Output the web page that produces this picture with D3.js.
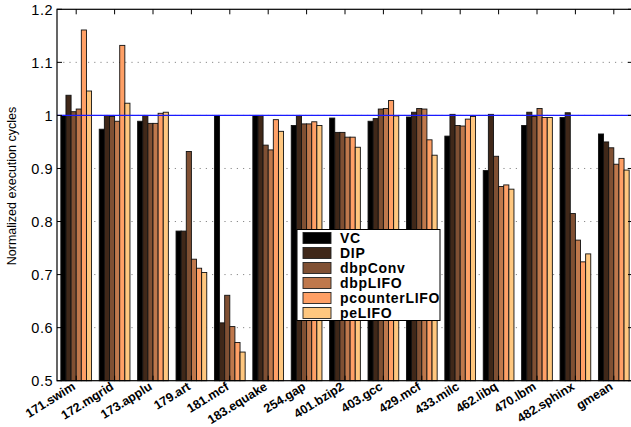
<!DOCTYPE html>
<html>
<head>
<meta charset="utf-8">
<script src="https://cdn.jsdelivr.net/npm/d3@7"></script>
<style>
  html, body { margin: 0; padding: 0; background: #fff; }
  svg { display: block; }
  text { font-family: "Liberation Sans", Arial, Helvetica, sans-serif; }
</style>
</head>
<body>
<svg id="chart" width="631" height="427"></svg>
<script>
// Benchmarks along the x axis
const categories = ["171.swim", "172.mgrid", "173.applu", "179.art", "181.mcf",
  "183.equake", "254.gap", "401.bzip2", "403.gcc", "429.mcf", "433.milc",
  "462.libq", "470.lbm", "482.sphinx", "gmean"];

// Replacement policies (legend order)
const seriesNames = ["VC", "DIP", "dbpConv", "dbpLIFO", "pcounterLIFO", "peLIFO"];

// Normalized execution cycles per policy, one value per benchmark
const vcValues      = [1.000, 0.974, 0.989, 0.782, 1.000, 1.000, 0.981, 0.995, 0.989, 0.997, 0.961, 0.896, 0.981, 0.996, 0.965];
const dipValues     = [1.038, 1.000, 1.000, 0.782, 0.609, 1.000, 1.000, 0.968, 0.994, 1.006, 1.002, 1.002, 1.006, 1.005, 0.950];
const dbpConvValues = [1.007, 0.998, 0.985, 0.932, 0.661, 0.944, 0.984, 0.968, 1.012, 1.013, 0.981, 0.923, 0.998, 0.815, 0.939];
const dbpLIFOValues = [1.012, 0.989, 0.985, 0.729, 0.602, 0.935, 0.984, 0.959, 1.013, 1.012, 0.980, 0.866, 1.013, 0.765, 0.908];
const pcounterValues= [1.161, 1.132, 1.004, 0.712, 0.572, 0.992, 0.988, 0.959, 1.028, 0.954, 0.993, 0.869, 0.996, 0.724, 0.919];
const peLIFOValues  = [1.046, 1.023, 1.006, 0.704, 0.554, 0.970, 0.981, 0.940, 0.999, 0.925, 0.998, 0.861, 0.996, 0.739, 0.897];

const seriesValues = [vcValues, dipValues, dbpConvValues, dbpLIFOValues, pcounterValues, peLIFOValues];

// Copper colormap, six steps
const seriesColors = ["#000000", "#402819", "#805033", "#bf784c", "#ffa066", "#ffc77f"];

const yTicks = [0.5, 0.6, 0.7, 0.8, 0.9, 1.0, 1.1, 1.2];
const yTickLabels = ["0.5", "0.6", "0.7", "0.8", "0.9", "1", "1.1", "1.2"];
const baseline = 1.0;

const svg = d3.select("#chart");
const plotLeft = 57, plotRight = 633, plotTop = 9.3, plotBottom = 380.7;

const x = d3.scaleBand().domain(categories).range([plotLeft, plotRight]).padding(0);
const x1 = d3.scaleBand().domain(seriesNames).range([0, x.bandwidth()]).paddingInner(0).paddingOuter(0.75);
const y = d3.scaleLinear().domain([0.5, 1.2]).range([plotBottom, plotTop]);

// Dotted grid lines
svg.append("g")
  .selectAll("line")
  .data(yTicks.filter(t => t > 0.5 && t < 1.2))
  .join("line")
  .attr("x1", plotLeft).attr("x2", plotRight)
  .attr("y1", d => y(d)).attr("y2", d => y(d))
  .attr("stroke", "#8a8a8a")
  .attr("stroke-width", 1)
  .attr("stroke-dasharray", "1.2,5");

// Bars
const groups = svg.append("g")
  .selectAll("g")
  .data(categories)
  .join("g")
  .attr("transform", d => `translate(${x(d)},0)`);

groups.selectAll("rect")
  .data((c, i) => seriesNames.map((s, j) => ({ s, v: seriesValues[j][i], color: seriesColors[j] })))
  .join("rect")
  .attr("x", d => x1(d.s))
  .attr("width", x1.bandwidth())
  .attr("y", d => y(d.v))
  .attr("height", d => plotBottom - y(d.v))
  .attr("fill", d => d.color)
  .attr("stroke", "#111")
  .attr("stroke-width", 0.9);

// Reference line at 1.0
svg.append("line")
  .attr("x1", plotLeft).attr("x2", plotRight)
  .attr("y1", y(baseline)).attr("y2", y(baseline))
  .attr("stroke", "#1a1aff")
  .attr("stroke-width", 1.3);

// Frame
svg.append("rect")
  .attr("x", plotLeft).attr("y", plotTop)
  .attr("width", plotRight - plotLeft).attr("height", plotBottom - plotTop)
  .attr("fill", "none").attr("stroke", "#000").attr("stroke-width", 1.2);

// Category ticks on top and bottom edges
const tickLen = 5;
svg.append("g").selectAll("line")
  .data(categories).join("line")
  .attr("x1", d => x(d) + x.bandwidth() / 2).attr("x2", d => x(d) + x.bandwidth() / 2)
  .attr("y1", plotTop).attr("y2", plotTop + tickLen)
  .attr("stroke", "#000");
svg.append("g").selectAll("line")
  .data(categories).join("line")
  .attr("x1", d => x(d) + x.bandwidth() / 2).attr("x2", d => x(d) + x.bandwidth() / 2)
  .attr("y1", plotBottom).attr("y2", plotBottom - tickLen)
  .attr("stroke", "#000");

// Value ticks on left and right edges
svg.append("g").selectAll("line")
  .data(yTicks).join("line")
  .attr("x1", plotLeft).attr("x2", plotLeft + tickLen)
  .attr("y1", d => y(d)).attr("y2", d => y(d))
  .attr("stroke", "#000");
svg.append("g").selectAll("line")
  .data(yTicks).join("line")
  .attr("x1", plotRight).attr("x2", plotRight - tickLen)
  .attr("y1", d => y(d)).attr("y2", d => y(d))
  .attr("stroke", "#000");

// Y tick labels
svg.append("g").selectAll("text")
  .data(yTicks).join("text")
  .attr("x", 53)
  .attr("y", d => y(d))
  .attr("dy", "0.36em")
  .attr("text-anchor", "end")
  .attr("font-size", 14.5)
  .attr("letter-spacing", 0.5)
  .text((d, i) => yTickLabels[i]);

// Category labels, rotated
svg.append("g").selectAll("text")
  .data(categories).join("text")
  .attr("transform", d => `translate(${x(d) + x.bandwidth() / 2},${plotBottom + 8}) rotate(-32)`)
  .attr("text-anchor", "end")
  .attr("font-size", 12.5)
  .attr("font-weight", "bold")
  .text(d => d);

// Y axis title
svg.append("text")
  .attr("transform", `translate(16,${186}) rotate(-90)`)
  .attr("text-anchor", "middle")
  .attr("font-size", 12.5)
  .text("Normalized execution cycles");

// Legend
const legend = svg.append("g");
legend.append("rect")
  .attr("x", 297).attr("y", 229.5)
  .attr("width", 143).attr("height", 91)
  .attr("fill", "#fff").attr("stroke", "#000").attr("stroke-width", 1);

const rowY = d3.scalePoint().domain(seriesNames).range([238, 313]);
const rows = legend.selectAll("g.row")
  .data(seriesNames).join("g")
  .attr("class", "row")
  .attr("transform", d => `translate(0,${rowY(d)})`);
rows.append("rect")
  .attr("x", 303).attr("y", -5.5)
  .attr("width", 28).attr("height", 11)
  .attr("fill", (d, i) => seriesColors[i])
  .attr("stroke", "#222").attr("stroke-width", 0.9);
rows.append("text")
  .attr("x", 340).attr("y", 0)
  .attr("dy", "0.36em")
  .attr("font-size", 14)
  .attr("font-weight", "bold")
  .attr("letter-spacing", 0.7)
  .text(d => d);
</script>
</body>
</html>
